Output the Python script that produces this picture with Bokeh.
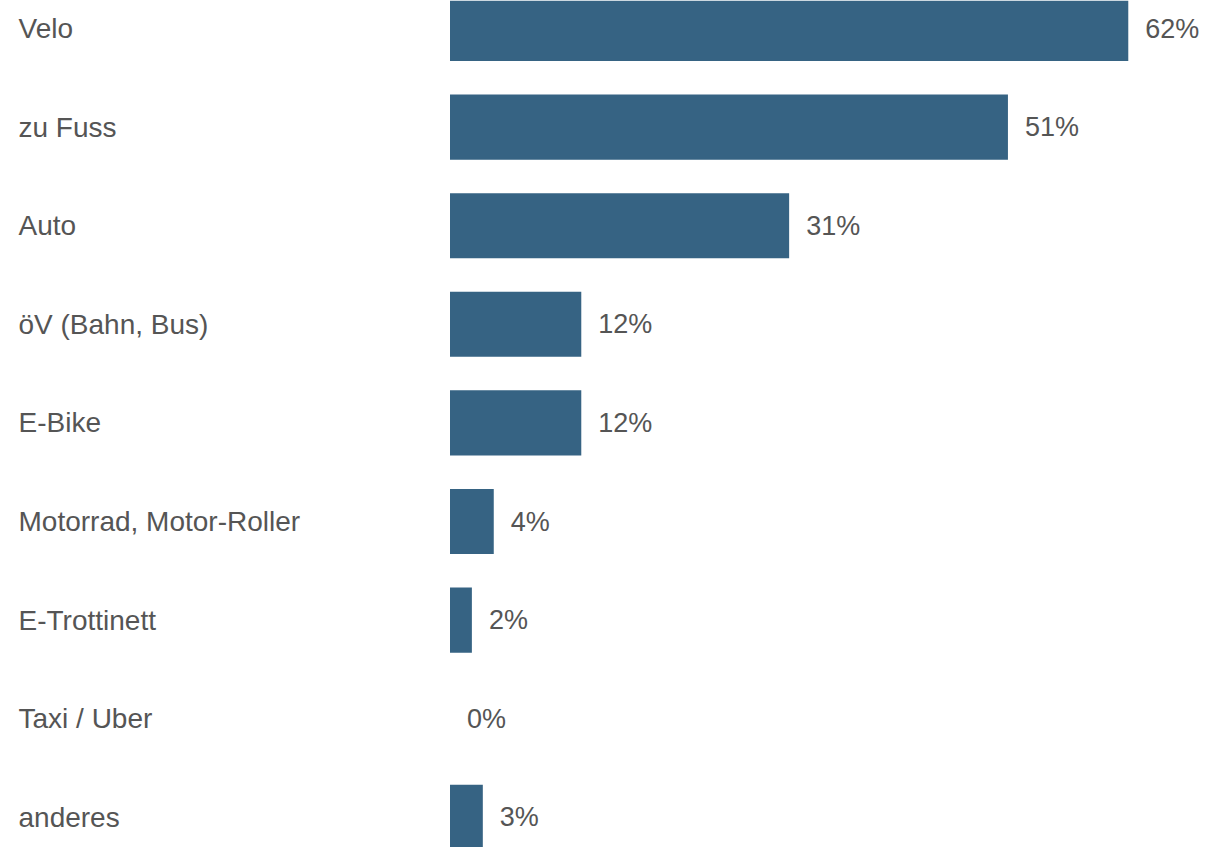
from bokeh.plotting import figure
from bokeh.models import ColumnDataSource, Range1d
from bokeh.core.properties import value
from bokeh.embed import file_html
from bokeh.resources import INLINE

categories = ["Velo", "zu Fuss", "Auto", "öV (Bahn, Bus)", "E-Bike",
              "Motorrad, Motor-Roller", "E-Trottinett", "Taxi / Uber", "anderes"]
values = [62, 51, 31, 12, 12, 4, 2, 0, 3]
labels = [f"{v}%" for v in values]

W, H = 1205, 847
px_per = 10.94
x0_px = 449.5
x_start = -x0_px / px_per
x_end = (W - x0_px) / px_per

row = 98.6
top_c = 28
y_end = -top_c / row
y_start = y_end + H / row

idx = list(range(len(categories)))
src = ColumnDataSource(dict(y=idx, v=values, cat=categories, lab=labels,
                            lx=[x_start] * len(idx)))

p = figure(width=W, height=H, output_backend="svg", toolbar_location=None,
           x_range=Range1d(x_start, x_end), y_range=Range1d(y_start, y_end),
           min_border=0)
p.axis.visible = False
p.grid.visible = False
p.outline_line_color = None
p.background_fill_color = "white"
p.border_fill_color = "white"

p.hbar(y="y", right="v", left=0, height=0.66, source=src,
       fill_color="#366383", line_color=None)
p.text(x="lx", y="y", text="cat", source=src, x_offset=18, y_offset=0,
       text_font=value("Liberation Sans"), text_font_size="28px", text_color="#555555",
       text_baseline="middle", text_align="left")
p.text(x="v", y="y", text="lab", source=src, x_offset=17, y_offset=0,
       text_font=value("Liberation Sans"), text_font_size="27px", text_color="#555555",
       text_baseline="middle", text_align="left")

open("out.html", "w").write(file_html(p, INLINE))
